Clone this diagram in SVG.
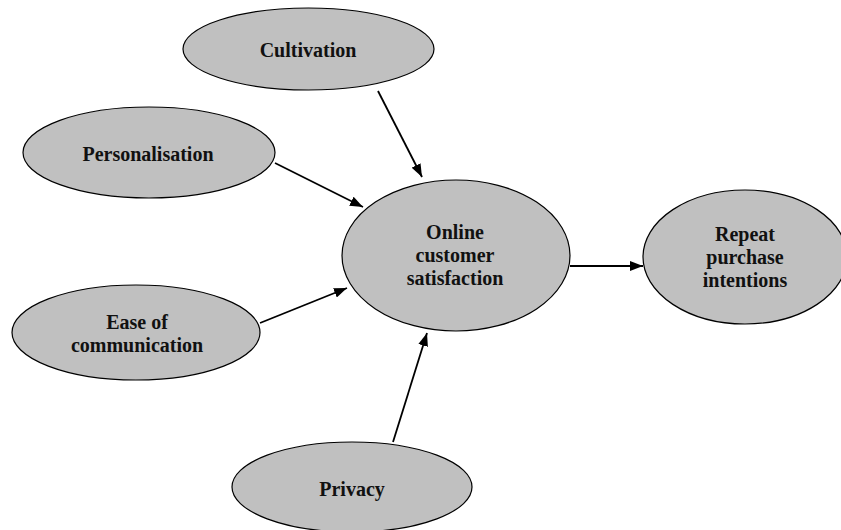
<svg xmlns="http://www.w3.org/2000/svg" width="841" height="530" viewBox="0 0 841 530">
<style>
.node ellipse{fill:#c0c0c0;stroke:#000;stroke-width:1.2}
.node text{font-family:"Liberation Serif","Times New Roman",serif;font-weight:bold;font-size:20px;fill:#111;text-anchor:middle}
.edge{stroke:#000;stroke-width:1.8;fill:none;marker-end:url(#arr)}
</style>
<defs>
<marker id="arr" markerUnits="userSpaceOnUse" markerWidth="14" markerHeight="10" refX="13" refY="5" orient="auto">
<path d="M0,0 L13,5 L0,10 Z" fill="#000"/>
</marker>
</defs>
<rect width="841" height="530" fill="#fff"/>
<g id="connectors">
<line class="edge" x1="378" y1="91" x2="422" y2="177"/>
<line class="edge" x1="275" y1="163" x2="363" y2="207"/>
<line class="edge" x1="260" y1="323" x2="347" y2="288"/>
<line class="edge" x1="393" y1="442" x2="427" y2="333"/>
<line class="edge" x1="570" y1="266" x2="643" y2="266"/>
</g>
<g id="cultivation" class="node">
<ellipse cx="308.5" cy="49" rx="125.5" ry="41"/>
<text x="308" y="57">Cultivation</text>
</g>
<g id="personalisation" class="node">
<ellipse cx="149" cy="152.5" rx="126" ry="45.5"/>
<text x="148" y="161">Personalisation</text>
</g>
<g id="satisfaction" class="node">
<ellipse cx="456" cy="255.5" rx="114" ry="75.5"/>
<text x="455" y="239">Online</text>
<text x="455" y="262">customer</text>
<text x="455" y="285">satisfaction</text>
</g>
<g id="repeat" class="node">
<ellipse cx="745" cy="257" rx="102" ry="67"/>
<text x="745" y="241">Repeat</text>
<text x="745" y="264">purchase</text>
<text x="745" y="287">intentions</text>
</g>
<g id="ease" class="node">
<ellipse cx="136" cy="332.5" rx="124" ry="47.5"/>
<text x="137" y="329">Ease of</text>
<text x="137" y="352">communication</text>
</g>
<g id="privacy" class="node">
<ellipse cx="352" cy="487" rx="120" ry="45"/>
<text x="352" y="496">Privacy</text>
</g>
</svg>
